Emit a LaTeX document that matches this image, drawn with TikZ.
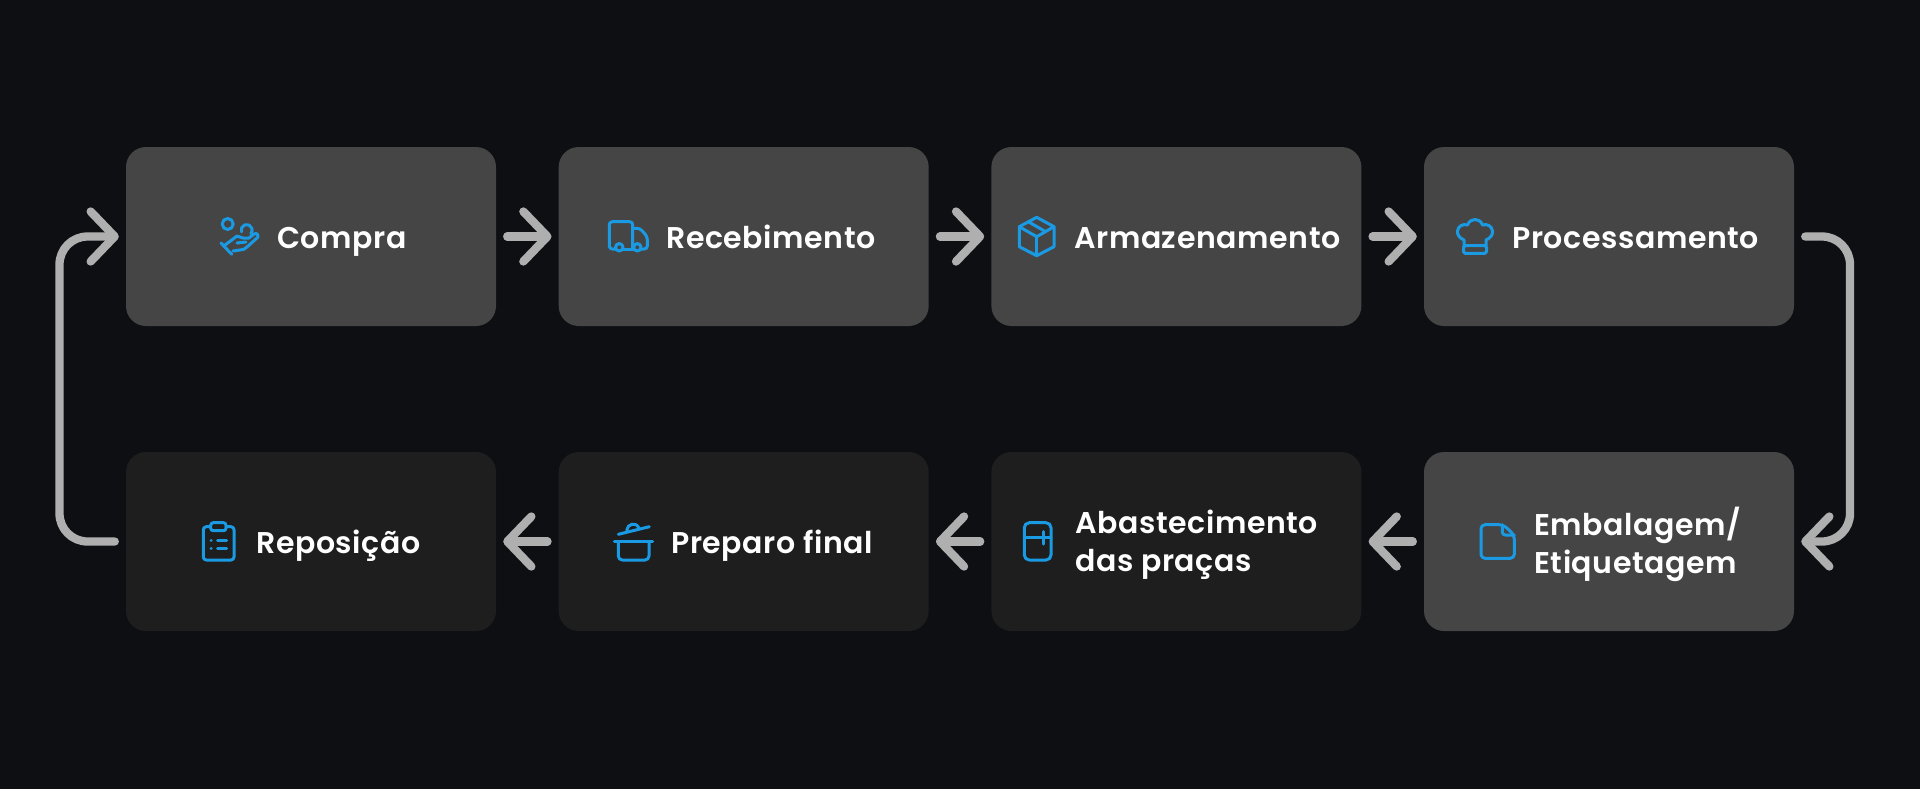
\documentclass[tikz,border=0pt]{standalone}
\usepackage{fontspec}
\setmainfont{Poppins}[UprightFont=* SemiBold,LetterSpace=2]
\usetikzlibrary{arrows.meta}
\definecolor{bgdark}{HTML}{0D0F13}
\definecolor{boxlight}{HTML}{454545}
\definecolor{boxdark}{HTML}{1E1E1E}
\definecolor{flowgray}{HTML}{AFAFAF}
\definecolor{iconblue}{HTML}{1B9AE4}
\tikzset{
	stepbox/.style={rounded corners=20pt, minimum width=370pt, minimum height=179pt, inner sep=0pt},
	steplight/.style={stepbox, fill=boxlight},
	stepdark/.style={stepbox, fill=boxdark},
	steptext/.style={text=white, inner sep=0pt, anchor=base west, font=\fontsize{30}{38}\selectfont},
	stepdouble/.style={text=white, inner sep=0pt, anchor=west, align=left, font=\fontsize{30}{38}\selectfont},
	flowline/.style={draw=flowgray, line width=8.3pt, line cap=round, line join=round, rounded corners=28pt,
		shorten <=11pt, shorten >=7pt, -{Straight Barb[length=24pt,width=50pt,round]}},
	icon/.style={draw=iconblue, line width=3pt, line cap=round, line join=round}
}
\begin{document}
\begin{tikzpicture}[x=1pt,y=-1pt]

	\useasboundingbox (0,0) rectangle (1920,788);
	\fill[bgdark] (-3,-3) rectangle (1923,791);

	% boxes
	\node[steplight] (compra) at (311,236.5) {};
	\node[steplight] (receb) at (743.7,236.5) {};
	\node[steplight] (armaz) at (1176.4,236.5) {};
	\node[steplight] (proc) at (1609,236.5) {};
	\node[steplight] (emb) at (1609,541.5) {};
	\node[stepdark] (abast) at (1176.4,541.5) {};
	\node[stepdark] (preparo) at (743.7,541.5) {};
	\node[stepdark] (repos) at (311,541.5) {};

	% labels
	\node[steptext] (tcompra) at (277,248) {Compra};
	\node[steptext] (treceb) at (666,248) {Recebimento};
	\node[steptext] (tarmaz) at (1074,248) {Armazenamento};
	\node[steptext] (tproc) at (1512,248) {Processamento};
	\node[stepdouble] (temb) at (1534,544.5) {Embalagem/\\Etiquetagem};
	\node[stepdouble] (tabast) at (1075,544.5) {Abastecimento\\das praças};
	\node[steptext] (tpreparo) at (671,553) {Preparo final};
	\node[steptext] (trepos) at (256,553) {Reposição};

	% connectors
	\foreach \a/\b in {compra/receb,receb/armaz,armaz/proc,emb/abast,abast/preparo,preparo/repos}
	\draw[flowline] (\a) -- (\b);
	\coordinate (rtop) at (1850,236.5);
	\coordinate (rbot) at (1850,541.5);
	\coordinate (lbot) at (59.5,541.5);
	\coordinate (ltop) at (59.5,236.5);
	\draw[flowline] (proc.east) -- (rtop) -- (rbot) -- (emb.east);
	\draw[flowline] (repos.west) -- (lbot) -- (ltop) -- (compra.west);

	% icon compra
	\draw[icon] (227.7,224) circle (5.5);
	\draw[icon] (241.5,231.9) arc (160:400:5.5);
	\draw[icon] (221,243) -- (231.7,254.3);
	\draw[icon] (225,245) -- (237,236) -- (243,238) -- (249,238) -- (254,234) .. controls (257,232) and (259,236) .. (257.5,237.5) -- (247,247) .. controls (245,249) and (243,250) .. (240,250) -- (233,251);
	\draw[icon] (237,243) -- (246,242);

	% icon truck
	\draw[icon,rounded corners=3pt] (615.5,249) -- (609.3,249) -- (609.3,221.7) -- (632.7,221.7) -- (632.7,249);
	\draw[icon] (623,249) -- (633.5,249);
	\draw[icon,rounded corners=3pt] (632.7,228.3) -- (640,228.3) -- (647.3,236.7) -- (647.3,249) -- (641,249);
	\draw[icon] (619.3,247.3) circle (3.7);
	\draw[icon] (637.3,247.3) circle (3.7);

	% icon box
	\draw[icon] (1036.7,217.3) -- (1054,226.7) -- (1054,246.7) -- (1036.7,255.7) -- (1019.3,246.7) -- (1019.3,226.7) -- cycle;
	\draw[icon] (1019.3,226.7) -- (1036.7,236.7) -- (1054,226.7);
	\draw[icon] (1036.7,236.7) -- (1036.7,255.7);
	\draw[icon] (1028.3,221.7) -- (1045.7,231.7);

	% icon hat
	\draw[icon] (1464,245.7) -- (1464,240) .. controls (1459,238) and (1457,234) .. (1457.5,231) .. controls (1458,226) and (1463,223.5) .. (1467.5,225) .. controls (1469,221) and (1472,219.5) .. (1475,219.5) .. controls (1478,219.5) and (1481,221) .. (1482.5,225) .. controls (1487,223.5) and (1492,226) .. (1492.5,231) .. controls (1493,234) and (1491,238) .. (1486,240) -- (1486,245.7);
	\draw[icon,rounded corners=1.5pt] (1463.5,245.7) rectangle (1486.5,253.3);

	% icon label
	\draw[icon,rounded corners=4pt] (1503.3,524.7) -- (1481,524.7) -- (1481,558.3) -- (1514.3,558.3) -- (1514.3,535) -- cycle;
	\draw[icon,rounded corners=3pt] (1502.3,524.7) -- (1502.3,535) -- (1514.3,535);

	% icon fridge
	\draw[icon,rounded corners=5pt] (1024.3,522.7) rectangle (1051,560);
	\draw[icon] (1024.3,537.3) -- (1051,537.3);
	\draw[icon] (1043.3,531.7) -- (1043.3,544);

	% icon pot
	\draw[icon] (618.3,534.3) -- (649.3,526.7);
	\draw[icon] (626.7,530.5) .. controls (627,524) and (636,521) .. (639,528.3);
	\draw[icon] (614.3,541.7) -- (652.7,541.7);
	\draw[icon,rounded corners=4pt] (618.3,541.7) -- (618.3,560) -- (649,560) -- (649,541.7);

	% icon clipboard
	\draw[icon,rounded corners=3pt] (210.7,526.7) -- (203.3,526.7) -- (203.3,560) -- (234,560) -- (234,526.7) -- (226,526.7);
	\draw[icon,rounded corners=2.5pt] (210.7,522.7) rectangle (226,530.7);
	\draw[icon] (211,540) -- (211.1,540);
	\draw[icon] (211,548.3) -- (211.1,548.3);
	\draw[icon] (217.7,540) -- (226.7,540);
	\draw[icon] (217.7,548.3) -- (226.7,548.3);

\end{tikzpicture}
\end{document}
